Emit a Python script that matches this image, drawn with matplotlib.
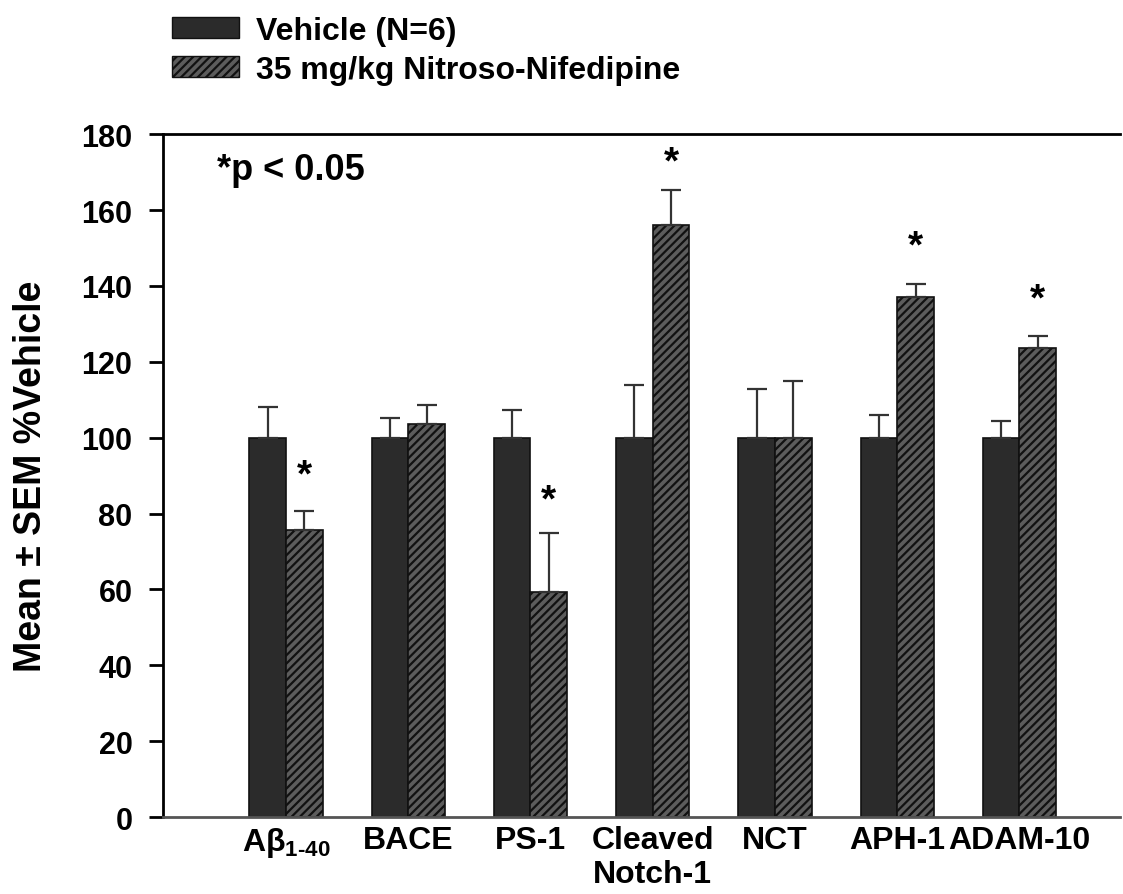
import numpy as np
import matplotlib.pyplot as plt
from matplotlib.patches import Patch

plt.rcParams['font.family'] = ['Liberation Sans', 'DejaVu Sans']
plt.rcParams['font.weight'] = 'bold'
plt.rcParams['mathtext.fontset'] = 'custom'
plt.rcParams['mathtext.rm'] = 'Liberation Sans:bold'
plt.rcParams['mathtext.it'] = 'Liberation Sans:bold'
plt.rcParams['mathtext.bf'] = 'Liberation Sans:bold'
plt.rcParams['hatch.linewidth'] = 1.6
plt.rcParams['hatch.color'] = '#111111'

# Données
categories = ['A\u03b2$_{1\u201040}$', 'BACE', 'PS-1', 'Cleaved\nNotch-1', 'NCT', 'APH-1', 'ADAM-10']
vehicle = [100, 100, 100, 100, 100, 100, 100]
vehicle_sem = [8, 5.2, 7.3, 14, 12.8, 6, 4.5]
drug = [75.6, 103.6, 59.3, 156, 100, 137, 123.6]
drug_sem = [5.1, 5.0, 15.6, 9.3, 14.9, 3.5, 3.2]
signif = [True, False, True, True, False, True, True]
star_y = [90, None, 83.5, 172.5, None, 150.5, 136.3]

x = np.arange(len(categories))
w = 0.30

fig = plt.figure(figsize=(11.23, 8.95), dpi=100)
ax = fig.add_axes([0.1451, 0.086, 0.852, 0.763])

ax.bar(x - w / 2, vehicle, w, color='#2b2b2b', edgecolor='#111111', linewidth=1.2,
       label='Vehicle (N=6)')
ax.bar(x + w / 2, drug, w, color='#5c5c5c', edgecolor='#111111', linewidth=1.2,
       hatch='////', label='35 mg/kg Nitroso-Nifedipine')

# Barres d'erreur (vers le haut seulement)
ax.errorbar(x - w / 2, vehicle, yerr=[np.zeros(len(x)), vehicle_sem], fmt='none',
            ecolor='#333333', elinewidth=1.6, capsize=7.5, capthick=1.6)
ax.errorbar(x + w / 2, drug, yerr=[np.zeros(len(x)), drug_sem], fmt='none',
            ecolor='#333333', elinewidth=1.6, capsize=7.5, capthick=1.6)

for i in range(len(x)):
    if signif[i]:
        ax.text(x[i] + w / 2, star_y[i], '*', ha='center', va='center', fontsize=28,
                fontweight='bold')

ax.text(-0.56, 170.8, '*p < 0.05', ha='left', va='center', fontsize=26, fontweight='bold')

ax.set_xlim(-1.006, 6.82)
ax.set_ylim(0, 180)
ax.set_yticks(np.arange(0, 181, 20))
ax.set_xticks(x)
ax.set_xticklabels(categories, fontsize=23, fontweight='bold', linespacing=1.15)
ax.tick_params(axis='x', length=0, pad=6)
ax.tick_params(axis='y', length=10, width=2, direction='out', labelsize=22, pad=12)
for lab in ax.get_yticklabels():
    lab.set_fontweight('bold')

ax.spines['right'].set_visible(False)
for s in ['left', 'top', 'bottom']:
    ax.spines[s].set_linewidth(2)
ax.spines['bottom'].set_color('#555555')

ax.set_ylabel('Mean \u00b1 SEM %Vehicle', fontsize=27, fontweight='bold', labelpad=23)

handles = [Patch(facecolor='#2b2b2b', edgecolor='#111111'),
           Patch(facecolor='#5c5c5c', edgecolor='#111111', hatch='////')]
fig.legend(handles, ['Vehicle (N=6)', '35 mg/kg Nitroso-Nifedipine'],
           loc='upper left', bbox_to_anchor=(172 / 1123, 0.981), frameon=False,
           borderpad=0, borderaxespad=0, handlelength=2.1, handleheight=0.63,
           handletextpad=0.53, labelspacing=0.28, prop={'weight': 'bold', 'size': 23})

fig.savefig('out.png', dpi=100)
